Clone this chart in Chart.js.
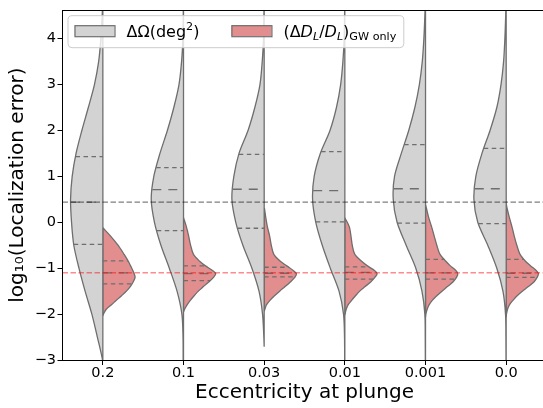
<!DOCTYPE html>
<html>
<head>
<meta charset="utf-8">
<script src="https://cdn.jsdelivr.net/npm/chart.js@4.4.1/dist/chart.umd.min.js"></script>
<style>
  html, body { margin: 0; padding: 0; background: #fff; overflow: hidden; }
  canvas { display: block; }
</style>
</head>
<body>
<canvas id="chart" width="550" height="408"></canvas>
<script>
// Eccentricity at plunge, one split violin per value
const categories = ['0.2', '0.1', '0.03', '0.01', '0.001', '0.0'];
const yTickValues = [-3, -2, -1, 0, 1, 2, 3, 4];

// Sky-localization error ΔΩ (left halves): relative density on a shared log10 grid
const skyGrid = [-3, -2.5, -2, -1.5, -1, -0.5, 0, 0.5, 1, 1.5, 2, 2.5, 3, 3.5, 4, 4.5];
const skyDensity = [
  [0.01, 0.17, 0.34, 0.55, 0.74, 0.90, 0.97, 1.00, 0.95, 0.83, 0.65, 0.45, 0.26, 0.13, 0.06, 0.02],
  [0.01, 0.015, 0.05, 0.20, 0.44, 0.70, 0.90, 1.00, 0.92, 0.73, 0.50, 0.30, 0.14, 0.06, 0.02, 0.008],
  [0.00, 0.01, 0.05, 0.16, 0.38, 0.66, 0.88, 1.00, 0.94, 0.78, 0.50, 0.29, 0.13, 0.06, 0.02, 0.008],
  [0.005, 0.01, 0.04, 0.18, 0.45, 0.70, 0.90, 1.00, 0.95, 0.76, 0.46, 0.26, 0.13, 0.06, 0.02, 0.008],
  [0.005, 0.008, 0.02, 0.11, 0.30, 0.60, 0.88, 1.00, 0.96, 0.75, 0.52, 0.33, 0.19, 0.10, 0.05, 0.02],
  [0.005, 0.008, 0.02, 0.10, 0.29, 0.57, 0.88, 1.00, 0.94, 0.75, 0.50, 0.29, 0.16, 0.08, 0.04, 0.015]
];
const skyLow = [-3.2, -3.2, -2.71, -3.2, -3.2, -3.2];
const skyHigh = [4.9, 4.9, 4.9, 4.9, 4.9, 4.9];
const skyQuartiles = [
  [-0.48, 0.44, 1.43], [-0.18, 0.71, 1.19], [-0.13, 0.72, 1.48],
  [0.01, 0.69, 1.54], [-0.02, 0.73, 1.69], [-0.03, 0.73, 1.61]
];

// Luminosity-distance error ΔD_L/D_L, GW only (right halves)
const distGrid = [0.3, 0.1, -0.1, -0.3, -0.5, -0.7, -0.85, -0.95, -1.05, -1.12, -1.2, -1.3, -1.4, -1.5, -1.6, -1.7, -1.8, -1.9, -2.0];
const distDensity = [
  [0, 0, 0, 0.24, 0.47, 0.66, 0.79, 0.86, 0.93, 0.97, 1.00, 0.94, 0.85, 0.73, 0.58, 0.42, 0.26, 0.10, 0.02],
  [0, 0, 0.09, 0.16, 0.22, 0.31, 0.50, 0.68, 0.90, 1.00, 0.93, 0.78, 0.62, 0.46, 0.33, 0.21, 0.11, 0.03, 0],
  [0.01, 0.05, 0.10, 0.17, 0.22, 0.30, 0.50, 0.70, 0.90, 1.00, 0.95, 0.81, 0.65, 0.48, 0.32, 0.18, 0.07, 0.02, 0],
  [0, 0, 0.14, 0.19, 0.23, 0.31, 0.52, 0.70, 0.92, 1.00, 0.93, 0.80, 0.63, 0.46, 0.33, 0.21, 0.10, 0.04, 0],
  [0.03, 0.10, 0.19, 0.27, 0.35, 0.45, 0.63, 0.77, 0.94, 1.00, 0.96, 0.85, 0.68, 0.51, 0.35, 0.21, 0.11, 0.05, 0.01],
  [0.03, 0.10, 0.18, 0.25, 0.33, 0.43, 0.60, 0.76, 0.93, 1.00, 0.96, 0.86, 0.69, 0.50, 0.34, 0.21, 0.10, 0.04, 0.01]
];
const distTop = [-0.12, 0.10, 0.31, 0.10, 0.38, 0.42];
const distBottom = [-2.03, -1.95, -1.93, -2.0, -2.06, -2.05];
const distQuartiles = [
  [-1.34, -1.10, -0.84], [-1.27, -1.12, -0.95], [-1.19, -1.11, -0.98],
  [-1.24, -1.09, -0.97], [-1.24, -1.10, -0.81], [-1.20, -1.11, -0.81]
];

// Horizontal reference levels: sky area, distance
const referenceLevels = [0.44, -1.1];

const FONT = '"DejaVu Sans", sans-serif';
const SKY_FILL = '#d3d3d3';
const DIST_FILL = '#e28e8e';
const EDGE = '#6e6e6e';
const HALF = 0.4; // maximum half-width of a violin, in category units

function interp(grid, dens, y) {
  for (let i = 0; i < grid.length - 1; i++) {
    const a = grid[i], b = grid[i + 1];
    if ((y - a) * (y - b) <= 0) {
      const t = (y - a) / (b - a);
      return dens[i] + t * (dens[i + 1] - dens[i]);
    }
  }
  return 0;
}

const violinStyle = {
  showLine: true, pointRadius: 0, borderWidth: 1.3, borderColor: EDGE,
  fill: 'shape', tension: 0.3, order: 3
};

const datasets = [];
categories.forEach((cat, i) => {
  // left half: up the outer edge, then back down the split line
  const sky = [{ x: i, y: skyLow[i] }];
  skyGrid.forEach((g, k) => {
    if (g > skyLow[i] && g < skyHigh[i]) sky.push({ x: i - HALF * skyDensity[i][k], y: g });
  });
  sky.push({ x: i, y: skyHigh[i] }, { x: i, y: skyLow[i] });
  datasets.push(Object.assign({ label: 'sky ' + cat, backgroundColor: SKY_FILL, data: sky }, violinStyle));

  // right half: down the outer edge, then back up the split line
  const dist = [{ x: i, y: distTop[i] }];
  distGrid.forEach((g, k) => {
    if (g < distTop[i] && g > distBottom[i]) dist.push({ x: i + HALF * distDensity[i][k], y: g });
  });
  dist.push({ x: i, y: distBottom[i] }, { x: i, y: distTop[i] });
  datasets.push(Object.assign({ label: 'dist ' + cat, backgroundColor: DIST_FILL, data: dist }, violinStyle));
});

// quartile lines inside each half (median drawn with longer dashes)
categories.forEach((cat, i) => {
  skyQuartiles[i].forEach((q, j) => {
    const w = HALF * interp(skyGrid, skyDensity[i], q);
    datasets.push({
      data: [{ x: i - w, y: q }, { x: i, y: q }], showLine: true, pointRadius: 0,
      borderColor: EDGE, borderWidth: 1.3, borderDash: j === 1 ? [9, 7] : [4.5, 3.5], fill: false, order: 2
    });
  });
  distQuartiles[i].forEach((q, j) => {
    const w = HALF * interp(distGrid, distDensity[i], q);
    datasets.push({
      data: [{ x: i, y: q }, { x: i + w, y: q }], showLine: true, pointRadius: 0,
      borderColor: EDGE, borderWidth: 1.3, borderDash: j === 1 ? [9, 7] : [4.5, 3.5], fill: false, order: 2
    });
  });
});

// reference levels across the whole axis
const refColors = ['rgba(0,0,0,0.5)', 'rgba(255,0,0,0.45)'];
referenceLevels.forEach((lv, k) => {
  datasets.push({
    data: [{ x: -0.5, y: lv }, { x: categories.length - 0.5, y: lv }], showLine: true, pointRadius: 0,
    borderColor: refColors[k], borderWidth: 1.4, borderDash: [5.5, 2.5], fill: false, order: 1
  });
});

// legend entries with math-style runs
const legendItems = [
  { fill: SKY_FILL, runs: [{ t: 'ΔΩ(deg' }, { t: '2', sup: true }, { t: ')' }] },
  { fill: DIST_FILL, runs: [
    { t: '(Δ' }, { t: 'D', it: true }, { t: 'L', it: true, sub: true }, { t: '/' },
    { t: 'D', it: true }, { t: 'L', it: true, sub: true }, { t: ')' }, { t: 'GW only', sub: true }
  ] }
];

function runFont(r, size) {
  const s = (r.sub || r.sup) ? size * 0.7 : size;
  return (r.it ? 'italic ' : '') + s + 'px ' + FONT;
}
function runsWidth(ctx, runs, size) {
  let w = 0;
  runs.forEach(r => { ctx.font = runFont(r, size); w += ctx.measureText(r.t).width; });
  return w;
}
function drawRuns(ctx, runs, x, y, size) {
  runs.forEach(r => {
    ctx.font = runFont(r, size);
    const dy = r.sub ? size * 0.22 : (r.sup ? -size * 0.43 : 0);
    ctx.fillText(r.t, x, y + dy);
    x += ctx.measureText(r.t).width;
  });
  return x;
}

const framePlugin = {
  id: 'frame',
  afterDatasetsDraw(chart) {
    const { ctx, chartArea: a } = chart;
    ctx.save();
    ctx.strokeStyle = '#000';
    ctx.lineWidth = 1;
    ctx.beginPath();
    ctx.moveTo(a.left, Math.round(a.top) + 0.5);
    ctx.lineTo(a.right, Math.round(a.top) + 0.5);
    ctx.moveTo(Math.round(a.right) - 0.5, a.top);
    ctx.lineTo(Math.round(a.right) - 0.5, a.bottom);
    ctx.stroke();
    ctx.restore();
  },
  afterDraw(chart) {
    const { ctx, chartArea: a } = chart;
    const size = 16;
    const bx = a.left + 5, by = a.top + 5, bh = 32;
    const patchW = 40, patchH = 11, pad = 12, colGap = 32;
    // measure entries
    let x = bx + 7;
    const layout = legendItems.map(item => {
      const px = x;
      const tx = px + patchW + pad;
      const tw = runsWidth(ctx, item.runs, size);
      x = tx + tw + colGap;
      return { px, tx, tw };
    });
    const last = layout[layout.length - 1];
    const bw = last.tx + last.tw + 7 - bx;
    ctx.save();
    ctx.beginPath();
    ctx.roundRect(bx + 0.5, by + 0.5, bw, bh, 4);
    ctx.fillStyle = 'rgba(255,255,255,0.8)';
    ctx.fill();
    ctx.strokeStyle = '#cccccc';
    ctx.lineWidth = 1;
    ctx.stroke();
    legendItems.forEach((item, k) => {
      const l = layout[k];
      ctx.fillStyle = item.fill;
      ctx.fillRect(l.px, by + 10, patchW, patchH);
      ctx.strokeStyle = EDGE;
      ctx.lineWidth = 1.2;
      ctx.strokeRect(l.px + 0.5, by + 10.5, patchW, patchH);
      ctx.fillStyle = '#000';
      ctx.textBaseline = 'alphabetic';
      ctx.textAlign = 'left';
      drawRuns(ctx, item.runs, l.tx, by + 21.5, size);
    });
    ctx.restore();
  }
};

const tickFont = { family: FONT, size: 14.5 };
const titleFont = { family: FONT, size: 20 };

new Chart(document.getElementById('chart'), {
  type: 'scatter',
  data: { datasets },
  plugins: [framePlugin],
  options: {
    responsive: false,
    animation: false,
    events: [],
    layout: { padding: { top: 7, right: 3.5, bottom: 0, left: 0 } },
    plugins: { legend: { display: false }, tooltip: { enabled: false } },
    scales: {
      x: {
        type: 'linear',
        min: -0.5,
        max: categories.length - 0.5,
        afterBuildTicks: s => { s.ticks = categories.map((c, i) => ({ value: i })); },
        afterFit: s => { s.height = 48; },
        ticks: {
          callback: v => categories[v],
          font: tickFont, color: '#000', padding: 0, maxRotation: 0, autoSkip: false
        },
        grid: { drawOnChartArea: false, drawTicks: true, tickLength: 5, color: '#000', tickWidth: 1 },
        border: { display: true, color: '#000', width: 1 },
        title: {
          display: true, text: 'Eccentricity at plunge', font: titleFont, color: '#000',
          padding: { top: 0, bottom: 3 }
        }
      },
      y: {
        type: 'linear',
        min: -3,
        max: 4.62,
        afterBuildTicks: s => { s.ticks = yTickValues.map(v => ({ value: v })); },
        afterFit: s => { s.width = 62.5; },
        ticks: {
          callback: v => (v < 0 ? '\u2212' + Math.abs(v) : String(v)),
          font: tickFont, color: '#000', padding: 1.5
        },
        grid: { drawOnChartArea: false, drawTicks: true, tickLength: 5, color: '#000', tickWidth: 1 },
        border: { display: true, color: '#000', width: 1 },
        title: {
          display: true, text: 'log\u2081\u2080(Localization error)', font: titleFont, color: '#000',
          padding: { top: 6, bottom: 0 }
        }
      }
    }
  }
});
</script>
</body>
</html>
